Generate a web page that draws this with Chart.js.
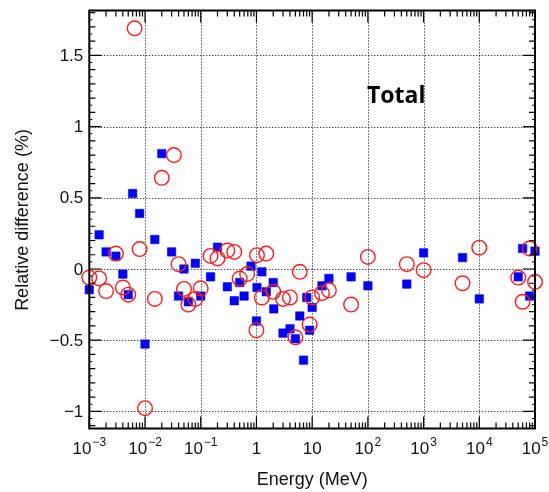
<!DOCTYPE html>
<html>
<head>
<meta charset="utf-8">
<script src="https://cdn.jsdelivr.net/npm/chart.js@4/dist/chart.umd.min.js"></script>
<style>
  html, body { margin: 0; padding: 0; background: #fff; }
  canvas { display: block; }
</style>
</head>
<body>
<canvas id="c" width="549" height="492"></canvas>
<script>
// ---- data (energy in MeV, relative difference in %) ----
const blueEnergy = [0.001, 0.0015, 0.002, 0.003, 0.004, 0.005, 0.006, 0.008, 0.01, 0.015,
  0.02, 0.03, 0.04, 0.05, 0.06, 0.08, 0.1, 0.15, 0.2, 0.3,
  0.4, 0.5, 0.6, 0.8, 1.0, 1.022, 1.25, 1.5, 2.0, 2.044,
  3, 4, 5, 6, 7, 8, 9, 10, 15, 20,
  50, 100, 500, 1000, 5000, 10000, 50000, 60000, 80000, 100000];
const blueDiff = [-0.146, 0.24, 0.12, 0.09, -0.036, -0.18, 0.53, 0.39, -0.527, 0.207,
  0.81, 0.12, -0.19, 0.0, -0.23, 0.04, -0.19, -0.055, 0.153, -0.125,
  -0.223, -0.095, -0.19, 0.02, -0.365, -0.13, -0.02, -0.16, -0.095, -0.28,
  -0.45, -0.42, -0.49, -0.33, -0.64, -0.20, -0.43, -0.27, -0.118, -0.066,
  -0.055, -0.118, -0.106, 0.113, 0.08, -0.21, -0.055, 0.144, -0.19, 0.125];

const redEnergy = [0.001, 0.0015, 0.002, 0.003, 0.004, 0.005, 0.0065, 0.008, 0.01, 0.015,
  0.02, 0.033, 0.04, 0.05, 0.06, 0.08, 0.1, 0.15, 0.2, 0.3,
  0.4, 0.5, 0.68, 1.0, 1.022, 1.25, 1.5, 2.0, 3, 4,
  5, 6, 9, 10, 15, 20, 50, 100, 500, 1000,
  5000, 10000, 50000, 60000, 80000, 100000];
const redDiff = [-0.06, -0.066, -0.155, 0.108, -0.13, -0.18, 1.69, 0.14, -0.977, -0.21,
  0.64, 0.80, 0.034, -0.14, -0.25, -0.21, -0.136, 0.092, 0.074, 0.13,
  0.12, -0.067, -0.036, -0.43, 0.097, -0.20, 0.108, -0.16, -0.21, -0.20,
  -0.48, -0.02, -0.39, -0.20, -0.17, -0.15, -0.25, 0.085, 0.034, -0.008,
  -0.10, 0.15, -0.06, -0.23, 0.144, -0.09];

const xDecades = [1e-3, 1e-2, 1e-1, 1, 10, 100, 1000, 1e4, 1e5];
const xTickBase = ['10', '10', '10', '1', '10', '10', '10', '10', '10'];
const xTickExp = ['\u22123', '\u22122', '\u22121', '', '', '2', '3', '4', '5'];
const yMajor = [-1, -0.5, 0, 0.5, 1, 1.5];
const yTickLabels = ['\u22121', '\u22120.5', '0', '0.5', '1', '1.5'];
const xTitle = 'Energy (MeV)';
const yTitle = 'Relative difference (%)';
const annotation = 'Total';

function pts(xs, ys) { return xs.map((x, i) => ({ x: x, y: ys[i] })); }

const FONT = '"Liberation Sans", Arial, Helvetica, sans-serif';

const frame = {
  id: 'frame',
  beforeDatasetsDraw(chart) {
    const ctx = chart.ctx, a = chart.chartArea;
    const xs = chart.scales.x, ys = chart.scales.y;
    ctx.save();
    ctx.strokeStyle = '#000';
    ctx.lineWidth = 1;
    ctx.setLineDash([1, 2]);
    xDecades.forEach(v => {
      const px = Math.round(xs.getPixelForValue(v)) + 0.5;
      ctx.beginPath(); ctx.moveTo(px, a.top); ctx.lineTo(px, a.bottom); ctx.stroke();
    });
    yMajor.forEach(v => {
      const py = Math.round(ys.getPixelForValue(v)) + 0.5;
      ctx.beginPath(); ctx.moveTo(a.left, py); ctx.lineTo(a.right, py); ctx.stroke();
    });
    ctx.restore();
  },
  afterDatasetsDraw(chart) {
    const ctx = chart.ctx, a = chart.chartArea;
    const xs = chart.scales.x, ys = chart.scales.y;
    ctx.save();
    ctx.strokeStyle = '#000';
    ctx.setLineDash([]);
    // frame
    ctx.lineWidth = 2;
    ctx.strokeRect(a.left, a.top, a.right - a.left, a.bottom - a.top);
    // x ticks
    ctx.lineWidth = 1.2;
    for (let d = 0; d < xDecades.length; d++) {
      const base = xDecades[d];
      const px = xs.getPixelForValue(base);
      ctx.beginPath();
      ctx.moveTo(px, a.bottom); ctx.lineTo(px, a.bottom - 12);
      ctx.moveTo(px, a.top); ctx.lineTo(px, a.top + 12);
      ctx.stroke();
      if (d < xDecades.length - 1) {
        for (let m = 2; m <= 9; m++) {
          const mx = xs.getPixelForValue(base * m);
          ctx.beginPath();
          ctx.moveTo(mx, a.bottom); ctx.lineTo(mx, a.bottom - 6);
          ctx.moveTo(mx, a.top); ctx.lineTo(mx, a.top + 6);
          ctx.stroke();
        }
      }
    }
    // y ticks
    for (let i = -11; i <= 18; i++) {
      const v = i / 10;
      const py = ys.getPixelForValue(v);
      const major = (i % 5 === 0);
      const len = major ? 12 : 6;
      ctx.beginPath();
      ctx.moveTo(a.left, py); ctx.lineTo(a.left + len, py);
      ctx.moveTo(a.right, py); ctx.lineTo(a.right - len, py);
      ctx.stroke();
    }
    ctx.lineWidth = 1;
    for (let i = -22; i <= 36; i++) {
      if (i % 2 === 0) continue;
      const py = ys.getPixelForValue(i / 20);
      ctx.beginPath();
      ctx.moveTo(a.left, py); ctx.lineTo(a.left + 3, py);
      ctx.moveTo(a.right, py); ctx.lineTo(a.right - 3, py);
      ctx.stroke();
    }
    // y tick labels
    ctx.fillStyle = '#111';
    ctx.font = '17px ' + FONT;
    ctx.textAlign = 'right';
    ctx.textBaseline = 'middle';
    yMajor.forEach((v, i) => {
      ctx.fillText(yTickLabels[i], a.left - 6, ys.getPixelForValue(v) + 1);
    });
    // x tick labels
    ctx.textBaseline = 'alphabetic';
    ctx.textAlign = 'left';
    const baseFont = '17px ' + FONT, expFont = '12px ' + FONT;
    xDecades.forEach((v, i) => {
      const px = xs.getPixelForValue(v);
      ctx.font = baseFont;
      const wb = ctx.measureText(xTickBase[i]).width;
      ctx.font = expFont;
      const we = xTickExp[i] ? ctx.measureText(xTickExp[i]).width + 1 : 0;
      const x0 = px - (wb + we) / 2;
      ctx.font = baseFont;
      ctx.fillText(xTickBase[i], x0, 454);
      if (xTickExp[i]) {
        ctx.font = expFont;
        ctx.fillText(xTickExp[i], x0 + wb + 1, 446);
      }
    });
    // axis titles
    ctx.font = '18px ' + FONT;
    ctx.textAlign = 'center';
    ctx.fillText(xTitle, (a.left + a.right) / 2, 485);
    ctx.save();
    ctx.translate(28, 220);
    ctx.rotate(-Math.PI / 2);
    ctx.fillText(yTitle, 0, 0);
    ctx.restore();
    // annotation
    ctx.fillStyle = '#000';
    ctx.font = 'bold 23px "Open Sans", ' + FONT;
    ctx.textAlign = 'left';
    ctx.textBaseline = 'middle';
    ctx.fillText(annotation, 367, 96);
    ctx.restore();
  }
};

new Chart(document.getElementById('c'), {
  type: 'scatter',
  data: {
    datasets: [
      {
        label: 'red',
        data: pts(redEnergy, redDiff),
        pointStyle: 'circle',
        pointRadius: 7.3,
        pointBorderWidth: 1.4,
        borderColor: '#ff1a1a',
        backgroundColor: 'rgba(0,0,0,0)',
        pointBackgroundColor: 'rgba(0,0,0,0)',
        pointBorderColor: '#ff1a1a',
        clip: false
      },
      {
        label: 'blue',
        data: pts(blueEnergy, blueDiff),
        pointStyle: 'rect',
        pointRadius: 6,
        pointBorderWidth: 0.5,
        borderColor: '#0000ff',
        backgroundColor: '#0000ff',
        pointBackgroundColor: '#0000ff',
        pointBorderColor: '#0000ff',
        clip: false
      }
    ]
  },
  options: {
    responsive: false,
    animation: false,
    events: [],
    layout: { padding: { left: 89.3, right: 14, top: 10.5, bottom: 63.5 } },
    scales: {
      x: { type: 'logarithmic', min: 1e-3, max: 1e5, display: false },
      y: { type: 'linear', min: -1.12, max: 1.815, display: false }
    },
    plugins: { legend: { display: false }, tooltip: { enabled: false } }
  },
  plugins: [frame]
});
</script>
</body>
</html>
